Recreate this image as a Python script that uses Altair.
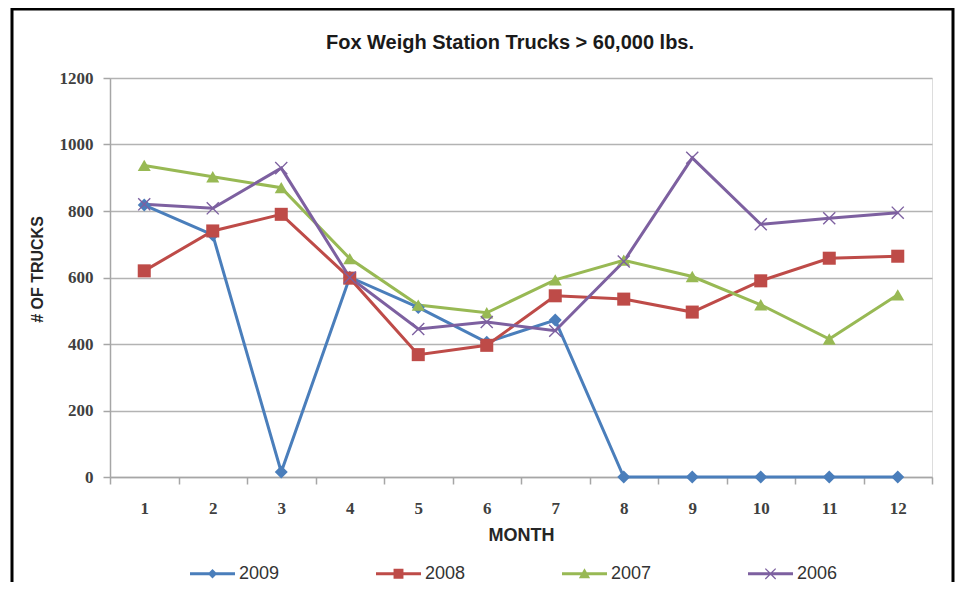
import altair as alt
import pandas as pd

months = list(range(1, 13))
years = ["2009", "2008", "2007", "2006"]
y2009 = [818, 728, 15, 601, 510, 405, 472, 0, 0, 0, 0, 0]
y2008 = [620, 740, 790, 598, 368, 396, 545, 535, 496, 590, 658, 664]
y2007 = [937, 903, 870, 657, 517, 494, 593, 652, 603, 518, 415, 548]
y2006 = [820, 808, 929, 600, 445, 466, 440, 648, 960, 760, 778, 795]
colors = ["#4A7EBB", "#BE4B48", "#98B954", "#7D60A0"]

rows = []
for yr, vals in zip(years, [y2009, y2008, y2007, y2006]):
    for m, v in zip(months, vals):
        rows.append({"month": m, "trucks": v, "year": yr})
df = pd.DataFrame(rows)

XPATH = ("M-1,-0.85L-0.85,-1L0,-0.15L0.85,-1L1,-0.85L0.15,0L1,0.85L0.85,1L0,0.15"
         "L-0.85,1L-1,0.85L-0.15,0Z")
LINE = "M-1,-0.067H1V0.067H-1Z "
leg_paths = [
    LINE + "M0,-0.21L0.21,0L0,0.21L-0.21,0Z",
    LINE + "M-0.22,-0.22H0.22V0.22H-0.22Z",
    LINE + "M0,-0.25L0.25,0.2H-0.25Z",
    LINE + "M-0.25,-0.21L-0.21,-0.25L0,-0.04L0.21,-0.25L0.25,-0.21L0.04,0"
           "L0.25,0.21L0.21,0.25L0,0.04L-0.21,0.25L-0.25,0.21L-0.04,0Z",
]

SANS = "Liberation Sans, Arial, sans-serif"
SERIF = "Liberation Serif, DejaVu Serif, serif"

x_enc = alt.X(
    "month:O",
    scale=alt.Scale(type="band", paddingInner=0, paddingOuter=0),
    axis=alt.Axis(
        title="MONTH", labelAngle=0, tickBand="extent", grid=False,
        domainColor="#A6A6A6", domainWidth=1.5, tickColor="#A6A6A6",
        tickWidth=1.5, tickSize=7, labelPadding=16,
        labelFont=SERIF, labelFontWeight="bold", labelFontSize=17,
        labelColor="#404040", titleFont=SANS, titleFontWeight="bold",
        titleFontSize=18, titleColor="#262626", titlePadding=10,
    ),
)
y_enc = alt.Y(
    "trucks:Q",
    scale=alt.Scale(domain=[0, 1200], nice=False),
    axis=alt.Axis(
        title="# OF TRUCKS", values=[0, 200, 400, 600, 800, 1000, 1200],
        format="d",
        grid=True, gridColor="#B3B3B3", gridWidth=1.5,
        domainColor="#A6A6A6", domainWidth=1.5, tickColor="#A6A6A6",
        tickWidth=1.5, tickSize=7, labelPadding=10,
        labelFont=SERIF, labelFontWeight="bold", labelFontSize=17,
        labelColor="#404040", titleFont=SANS, titleFontWeight="bold",
        titleFontSize=16, titleColor="#262626", titlePadding=14, titleY=191,
    ),
)
color_enc = alt.Color("year:N", scale=alt.Scale(domain=years, range=colors),
                      legend=None)

base = alt.Chart(df)
lines = base.mark_line(strokeWidth=3).encode(x=x_enc, y=y_enc, color=color_enc,
                                             detail="year:N")
points = base.mark_point(filled=True, size=170, opacity=1).encode(
    x="month:O", y="trucks:Q", color=color_enc,
    shape=alt.Shape("year:N", scale=alt.Scale(
        domain=years, range=["diamond", "square", "triangle-up", XPATH]),
        legend=None),
)

leg = dict(title=None, orient="none", direction="horizontal", columns=4,
           legendX=80, legendY=473, symbolSize=2025, labelFont=SANS,
           labelFontSize=18, labelColor="#333333", labelOffset=4,
           columnPadding=96, symbolStrokeWidth=0)

legend_layer = base.transform_filter("false").mark_point(
    filled=True, size=2025, opacity=1
).encode(
    x="month:O", y="trucks:Q",
    color=alt.Color("year:N", scale=alt.Scale(domain=years, range=colors),
                    legend=alt.Legend(**leg)),
    shape=alt.Shape("year:N", scale=alt.Scale(domain=years, range=leg_paths),
                    legend=alt.Legend(**leg)),
)

border = alt.Chart(alt.Data(values=[{}])).mark_rect(
    fill=None, stroke="#000000", strokeWidth=3
).encode(x=alt.value(-98), x2=alt.value(843), y=alt.value(-69),
         y2=alt.value(700))

chart = alt.layer(lines, points, legend_layer, border).resolve_scale(
    shape="independent", color="independent"
).properties(
    width=822, height=399,
    autosize=alt.AutoSizeParams(type="none"),
    padding={"left": 102, "top": 70, "right": 24, "bottom": 105},
    title=alt.TitleParams("Fox Weigh Station Trucks > 60,000 lbs.",
                          font=SANS, fontSize=20, fontWeight="bold",
                          color="#1A1A1A", anchor="middle", offset=0,
                          dy=45, dx=-11),
).configure_view(stroke=None).configure(background="white")

chart.save("out.html", embed_options={"renderer": "svg", "actions": False})
